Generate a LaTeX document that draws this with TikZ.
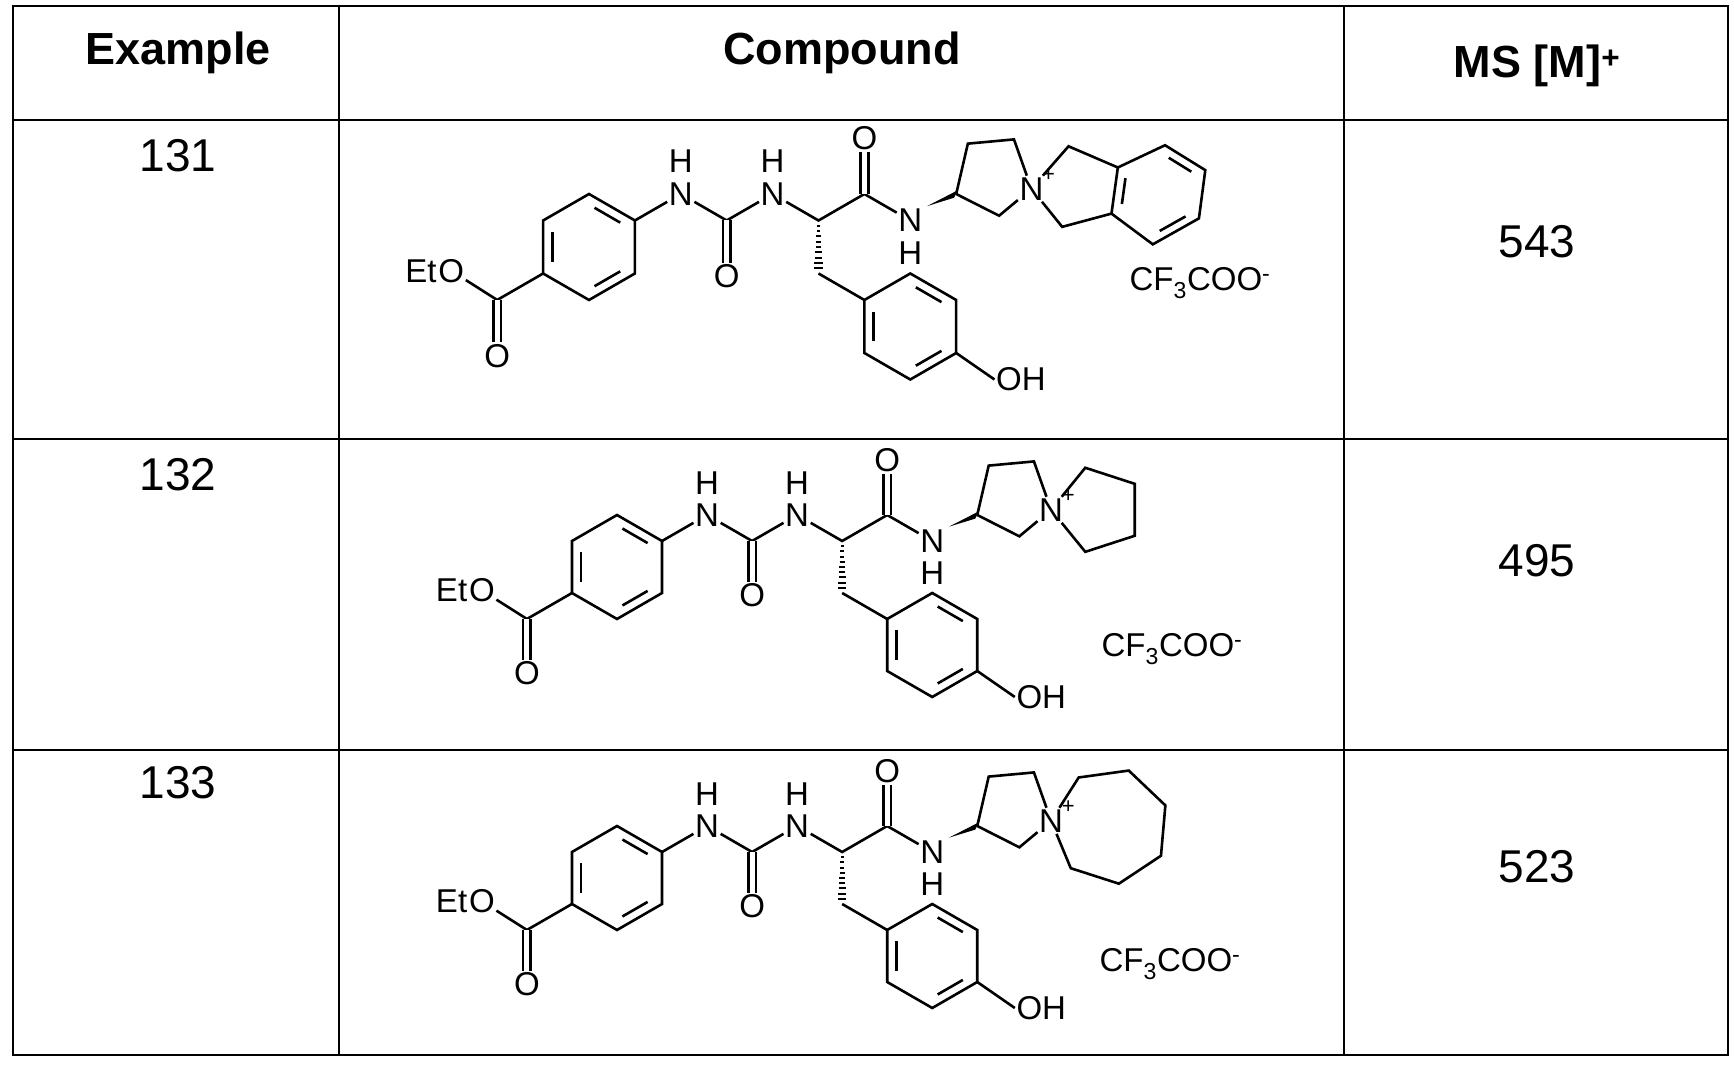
\documentclass[tikz,border=0pt]{standalone}
\usepackage{fontspec}
\setmainfont{Liberation Sans}
\usetikzlibrary{calc}
\tikzset{
  grid/.style={line width=2.8pt},
  bond/.style={line width=2.6pt},
  atom/.style={inner sep=1.5pt,font=\fontsize{33}{33}\selectfont},
  hdr/.style={font=\fontsize{45}{45}\selectfont\bfseries},
  num/.style={font=\fontsize{46}{46}\selectfont},
}
\newcommand\dbl[3]{\draw[bond] ($($(#1)!.2!(#3)$)!.15!($(#2)!.2!(#3)$)$) -- ($($(#2)!.2!(#3)$)!.15!($(#1)!.2!(#3)$)$);}
\newcommand\mymol[1]{%
 \coordinate (a1) at (0,1); \coordinate (a2) at (0.866,0.5); \coordinate (a3) at (0.866,-0.5);
 \coordinate (a4) at (0,-1); \coordinate (a5) at (-0.866,-0.5); \coordinate (a6) at (-0.866,0.5);
 \coordinate (ac) at (0,0);
 \draw[bond] (a1)--(a2)--(a3)--(a4)--(a5)--(a6)--cycle;
 \dbl{a1}{a2}{ac}\dbl{a3}{a4}{ac}\dbl{a5}{a6}{ac}
 \coordinate (e) at (-1.732,-1);
 \node[atom] (eo) at (-2.598,-0.45) {O};
 \node[atom,inner sep=0pt,anchor=east] (et) at (eo.west) {Et};
 \node[atom] (eo2) at (-1.732,-2.05) {O};
 \draw[bond] (a5)--(e)--(eo);
 \draw[bond,double,double distance=5pt] (e)--(eo2);
 \node[atom] (n1) at (1.732,1) {N}; \node[atom] (h1) at (1.732,1.62) {H};
 \coordinate (u) at (2.598,0.5);
 \node[atom] (uo) at (2.598,-0.55) {O};
 \node[atom] (n2) at (3.464,1) {N}; \node[atom] (h2) at (3.464,1.62) {H};
 \coordinate (ca) at (4.33,0.5);
 \coordinate (cb) at (4.33,-0.5);
 \coordinate (cm) at (5.196,1);
 \node[atom] (mo) at (5.196,2.05) {O};
 \node[atom] (n3) at (6.062,0.5) {N}; \node[atom] (h3) at (6.062,-0.12) {H};
 \coordinate (c3) at (6.928,1);
 \draw[bond] (a2)--(n1)--(u)--(n2)--(ca)--(cm)--(n3);
 \draw[bond,double,double distance=5pt] (u)--(uo);
 \draw[bond,double,double distance=5pt] (cm)--(mo);
 \foreach \t in {0.1,0.2,...,0.95} \draw[line width=2pt] ($(ca)!\t!(cb)+(-0.02-0.07*\t,0)$) -- ($(ca)!\t!(cb)+(0.02+0.07*\t,0)$);
 \fill ($(n3.north east)!0.1!(c3)$) -- ($(c3)+(0.03,0.07)$) -- ($(c3)+(-0.04,-0.07)$) -- cycle;
 \coordinate (b1) at (6.062,-0.5); \coordinate (b2) at (6.928,-1); \coordinate (b3) at (6.928,-2);
 \coordinate (b4) at (6.062,-2.5); \coordinate (b5) at (5.196,-2); \coordinate (b6) at (5.196,-1);
 \coordinate (bc) at (6.062,-1.5);
 \draw[bond] (cb)--(b6);
 \draw[bond] (b1)--(b2)--(b3)--(b4)--(b5)--(b6)--cycle;
 \dbl{b1}{b2}{bc}\dbl{b3}{b4}{bc}\dbl{b5}{b6}{bc}
 \node[atom,anchor=west] (oh) at (7.65,-2.5) {OH};
 \draw[bond] (b3)--(oh.west);
 \coordinate (c4) at ($(c3)+(0.22,0.95)$); \coordinate (c5) at ($(c3)+(1.09,1.03)$);
 \node[atom] (np) at ($(c3)+(1.42,0.10)$) {N};
 \node[inner sep=0pt,anchor=south west,font=\fontsize{22}{22}\selectfont] (pl) at ($(np.north east)+(-0.06,-0.12)$) {+};
 \coordinate (c2) at ($(c3)+(0.81,-0.41)$);
 \draw[bond] (c3)--(c4)--(c5)--(np)--(c2)--(c3);
 #1}
\begin{document}
\begin{tikzpicture}[x=1pt,y=1pt]
\useasboundingbox (0,0) rectangle (1734,1069);
\draw[grid] (13,14) rectangle (1728,1063);
\draw[grid] (339,14)--(339,1063) (1344,14)--(1344,1063);
\draw[grid] (13,949)--(1728,949) (13,630)--(1728,630) (13,319)--(1728,319);
\node[hdr] (h1) at (178,1016) {Example};
\node[hdr] (h2) at (842,1016) {Compound};
\node[hdr] (h3) at (1537,1003) {MS [M]\textsuperscript{+}};
\node[num] (e1) at (178,913) {131};
\node[num] (e2) at (178,594) {132};
\node[num] (e3) at (178,286) {133};
\node[num] (m1) at (1537,827) {543};
\node[num] (m2) at (1537,508) {495};
\node[num] (m3) at (1537,202) {523};
\node[atom] (s1) at (1200,786) {CF\textsubscript{3}COO\textsuperscript{-}};
\node[atom] (s2) at (1172,420) {CF\textsubscript{3}COO\textsuperscript{-}};
\node[atom] (s3) at (1170,105) {CF\textsubscript{3}COO\textsuperscript{-}};
\begin{scope}[shift={(589,822)},x=53pt,y=53pt]
\mymol{%
 \coordinate (m1) at ($(np)+(0.70,0.80)$); \coordinate (m2) at ($(np)+(0.58,-0.72)$);
 \coordinate (f1) at ($(np)+(1.63,0.40)$); \coordinate (f2) at ($(np)+(1.51,-0.47)$);
 \coordinate (r1) at ($(np)+(2.52,0.82)$); \coordinate (r2) at ($(np)+(3.28,0.35)$);
 \coordinate (r3) at ($(np)+(3.16,-0.56)$); \coordinate (r4) at ($(np)+(2.29,-1.05)$);
 \coordinate (rc) at ($(np)+(2.42,-0.08)$);
 \draw[bond] (np)--(m1)--(f1)--(f2)--(m2)--(np);
 \draw[bond] (f1)--(r1)--(r2)--(r3)--(r4)--(f2);
 \dbl{r1}{r2}{rc}\dbl{r3}{r4}{rc}\dbl{f1}{f2}{rc}}
\end{scope}
\begin{scope}[shift={(617,502)},x=52pt,y=52pt]
\mymol{%
 \coordinate (pc) at ($(np)+(0.92,0)$);
 \foreach \i/\a in {1/108,2/36,3/-36,4/-108} \coordinate (p\i) at ($(pc)+(\a:0.85)$);
 \draw[bond] (np)--(p1)--(p2)--(p3)--(p4)--(np);}
\end{scope}
\begin{scope}[shift={(617,191)},x=52pt,y=52pt]
\mymol{%
 \coordinate (qc) at ($(np)+(1.15,-0.1)$);
 \foreach \i in {1,...,6} \coordinate (q\i) at ($(qc)+(175-\i*51.43:1.12)$);
 \draw[bond] (np)--(q1)--(q2)--(q3)--(q4)--(q5)--(q6)--(np);}
\end{scope}
\end{tikzpicture}
\end{document}
